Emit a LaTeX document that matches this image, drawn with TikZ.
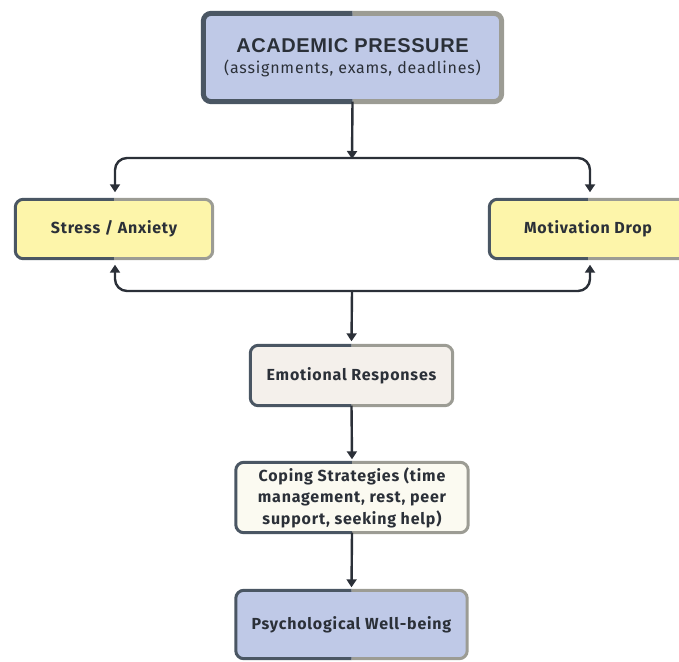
\documentclass[tikz,border=0pt]{standalone}
\usepackage{fontspec}
\setmainfont{Fira Sans}[LetterSpace=5]
\newfontfamily\headfont{Liberation Sans}[LetterSpace=3]
\usetikzlibrary{arrows.meta,calc}
\definecolor{dk}{HTML}{4A5663}
\definecolor{gr}{HTML}{9C9C94}
\definecolor{txt}{HTML}{2B3038}
\definecolor{blu}{HTML}{BFC9E7}
\definecolor{yel}{HTML}{FDF5AA}
\definecolor{cream}{HTML}{F4F0EB}
\definecolor{ivory}{HTML}{FBFAF1}
\newcommand{\splitborder}[2]{%
  \begin{scope}
    \clip ($(#1.south west)+(-10,10)$) rectangle ($(#1.north)+(0,-10)$);
    \draw[dk, line width=#2, rounded corners=8pt] (#1.south west) rectangle (#1.north east);
  \end{scope}
  \begin{scope}
    \clip ($(#1.south east)+(10,10)$) rectangle ($(#1.north)+(0,-10)$);
    \draw[gr, line width=#2, rounded corners=8pt] (#1.south west) rectangle (#1.north east);
  \end{scope}}
\tikzset{
  box/.style={rectangle, rounded corners=8pt, inner sep=0pt, align=center,
    text=txt, font=\bfseries\fontsize{16}{21.5}\selectfont},
  arr/.style={draw=txt, line width=2.4pt, -{Triangle[length=8pt,width=10pt]}},
  ln/.style={draw=txt, line width=2.4pt, rounded corners=12pt},
}
\begin{document}
\begin{tikzpicture}[x=1pt,y=-1pt]
\useasboundingbox (0,0) rectangle (679,661);
\node[box, fill=blu, minimum width=298pt, minimum height=88pt] (acad) at (352.5,57.5)
  {{\headfont\bfseries\fontsize{20}{24}\selectfont ACADEMIC PRESSURE}\\[0pt]{\mdseries\fontsize{16}{20}\selectfont (assignments, exams, deadlines)}};
\node[box, fill=yel, minimum width=197pt, minimum height=59pt] (stress) at (114,229) {Stress / Anxiety};
\node[box, fill=yel, minimum width=197pt, minimum height=59pt] (motiv) at (588,229) {Motivation Drop};
\node[box, fill=cream, minimum width=202pt, minimum height=60pt] (emo) at (351.5,375.5) {Emotional Responses};
\node[box, fill=ivory, minimum width=232pt, minimum height=70pt] (cope) at (352,497.5)
  {Coping Strategies (time\\management, rest, peer\\support, seeking help)};
\node[box, fill=blu, minimum width=231pt, minimum height=68pt] (psy) at (351.5,624.5) {Psychological Well-being};
\splitborder{acad}{5pt}
\splitborder{stress}{3pt}
\splitborder{motiv}{3pt}
\splitborder{emo}{3pt}
\splitborder{cope}{3pt}
\splitborder{psy}{3pt}
% top fork
\coordinate (j1) at (352,158);
\coordinate (j2) at (352,291);
\draw[arr] (acad.south) -- ($(j1)+(0,1)$);
\draw[ln, arr] (j1) -| ($(stress.north)+(1,-7)$);
\draw[ln, arr] (j1) -| ($(motiv.north)+(2,-7)$);
% bottom fork
\draw[ln, arr] (j2) -| ($(stress.south)+(1,6)$);
\draw[ln, arr] (j2) -| ($(motiv.south)+(2,6)$);
\draw[arr] (j2) -- ($(emo.north)+(0,-4)$);
\draw[arr] (emo.south) -- ($(cope.north)+(0,-3)$);
\draw[arr] (cope.south) -- ($(psy.north)+(0,-3)$);
\end{tikzpicture}
\end{document}
